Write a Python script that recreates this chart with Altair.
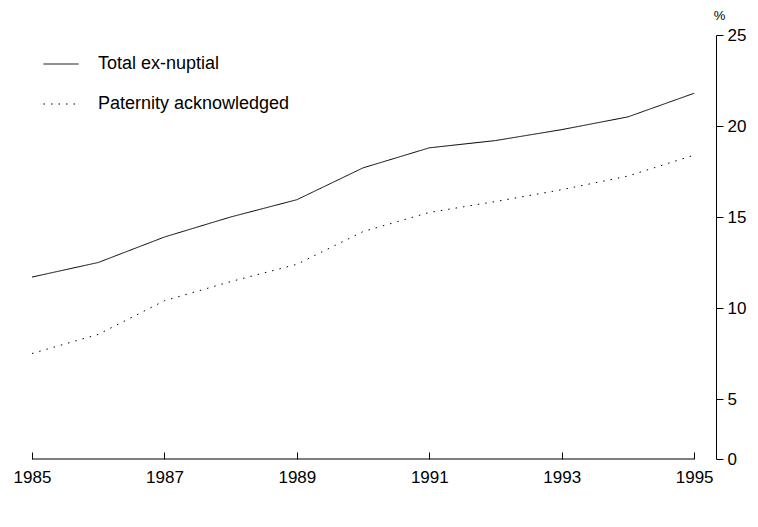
import altair as alt
import pandas as pd

years = list(range(1985, 1996))
total_ex_nuptial = [11.7, 12.5, 13.9, 15.0, 15.95, 17.7, 18.8, 19.2, 19.8, 20.5, 21.8]
paternity_ack = [7.5, 8.55, 10.4, 11.45, 12.4, 14.2, 15.25, 15.85, 16.5, 17.25, 18.4]
series_names = ["Total ex-nuptial", "Paternity acknowledged"]
x_ticks = [1985, 1987, 1989, 1991, 1993, 1995]
y_ticks = [0, 5, 10, 15, 20, 25]

rows = []
for name, vals in zip(series_names, [total_ex_nuptial, paternity_ack]):
    for yr, v in zip(years, vals):
        rows.append({"year": yr, "value": v, "series": name})
df = pd.DataFrame(rows)

axis_df = pd.DataFrame({"x1": [1985], "x2": [1995], "y": [0]})

FONT = "Liberation Sans"

x_scale = alt.Scale(domain=[1985, 1995.33], nice=False, zero=False)
y_scale = alt.Scale(domain=[0, 5, 25], range=[424, 364, 0], nice=False, zero=False)

lines = alt.Chart(df).mark_line(strokeWidth=1, color="black").encode(
    x=alt.X("year:Q", scale=x_scale,
            axis=alt.Axis(values=x_ticks, format="d", tickSize=7, offset=-7,
                          domain=False, grid=False, labelFontSize=17,
                          labelPadding=10, title=None, labelFlush=False,
                          labelOverlap=False, tickColor="black",
                          labelColor="black", labelFont=FONT)),
    y=alt.Y("value:Q", scale=y_scale,
            axis=alt.Axis(orient="right", values=y_ticks, tickSize=7,
                          domainColor="black", tickColor="black",
                          labelColor="black", labelFontSize=17,
                          labelPadding=4, labelFont=FONT, grid=False,
                          title="%", titleAngle=0, titleX=3, titleY=-20,
                          titleAlign="center", titleBaseline="middle",
                          titleFontSize=13, titleFontWeight="normal",
                          titleFont=FONT, titleColor="black")),
    strokeDash=alt.StrokeDash(
        "series:N",
        scale=alt.Scale(domain=series_names, range=[[1, 0], [1.5, 6]]),
        legend=alt.Legend(orient="none", legendX=11, legendY=11, title=None,
                          symbolType="stroke", symbolSize=1225,
                          symbolStrokeWidth=1, symbolStrokeColor="black",
                          labelFontSize=18, labelFont=FONT, labelColor="black",
                          labelLimit=0, labelOffset=19, rowPadding=13,
                          padding=0)),
)

xaxis_line = alt.Chart(axis_df).mark_rule(color="black", strokeWidth=1).encode(
    x=alt.X("x1:Q", scale=x_scale),
    x2="x2:Q",
    y=alt.Y("y:Q", scale=y_scale),
)

chart = alt.layer(lines, xaxis_line).properties(
    width=684, height=424,
    autosize=alt.AutoSizeParams(type="none"),
    padding={"left": 24, "top": 27, "right": 34, "bottom": 50},
    view=alt.ViewBackground(stroke="transparent", strokeWidth=0),
).configure_view(stroke="transparent", strokeWidth=0).configure(
    font=FONT, background="white")

chart.save("out.html", embed_options={"renderer": "svg", "actions": False})
